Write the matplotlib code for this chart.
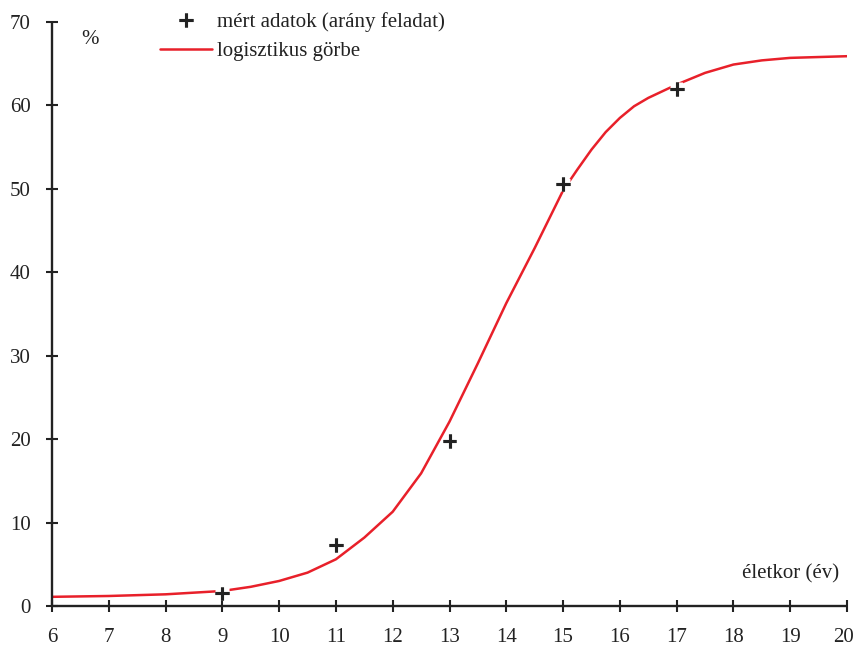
import matplotlib
matplotlib.use("Agg")
import matplotlib.pyplot as plt
import matplotlib.patheffects as pe
import matplotlib.transforms as mtrans

# measured data (arány feladat)
meas_x = [9, 11, 13, 15, 17]
meas_y = [1.5, 7.3, 19.8, 50.6, 62.0]

# logistic curve
curve_x = [6, 7, 8, 8.5, 9, 9.5, 10, 10.5, 11, 11.5, 12, 12.5, 13, 13.5, 14,
           14.5, 15, 15.25, 15.5, 15.75, 16, 16.25, 16.5, 16.75, 17, 17.5, 18,
           18.5, 19, 19.5, 20]
curve_y = [1.1, 1.2, 1.4, 1.6, 1.8, 2.3, 3.0, 4.0, 5.6, 8.2, 11.3, 15.9, 22.1, 29.1, 36.3,
           42.9, 49.8, 52.3, 54.7, 56.8, 58.5, 59.9, 60.9, 61.7, 62.5, 63.9, 64.9,
           65.4, 65.7, 65.8, 65.9]

x_ticks = list(range(6, 21))
y_ticks = list(range(0, 71, 10))

plt.rcParams['font.family'] = ['Liberation Serif', 'DejaVu Serif']

fig = plt.figure(figsize=(8.55, 6.5), dpi=100)
ax = fig.add_axes([52/855, 1-606/650, (847-52)/855, (606-22)/650])

ax.plot(curve_x, curve_y, color='#e8202a', lw=1.8, label='logisztikus görbe',
        zorder=2, solid_joinstyle='round', solid_capstyle='round')
ax.plot(meas_x, meas_y, ls='none', marker='+', ms=10, mew=2.2, color='#222222',
        label='mért adatok (arány feladat)', zorder=3,
        path_effects=[pe.withStroke(linewidth=8, foreground='white'), pe.Normal()])

ax.set_xlim(6, 20)
ax.set_ylim(0, 70)
ax.set_xticks(x_ticks)
ax.set_yticks(y_ticks)
for s in ['top', 'right']:
    ax.spines[s].set_visible(False)
for s in ['left', 'bottom']:
    ax.spines[s].set_linewidth(1.7)
    ax.spines[s].set_color('#222222')
    ax.spines[s].set_capstyle('butt')
ax.tick_params(direction='inout', length=9, width=1.5, color='#222222',
               labelsize=15, pad=11, labelcolor='#222222')

# keep the last x label inside the canvas
fig.canvas.draw()
last = ax.get_xticklabels()[-1]
last.set_transform(last.get_transform() +
                   mtrans.ScaledTranslation(-4/100, 0, fig.dpi_scale_trans))

ax.text(6.67, 67.9, '%', fontsize=15, ha='center', va='center', color='#222222')
ax.text(19.87, 3.8, 'életkor (év)', fontsize=15, ha='right', va='center', color='#222222')

handles, labels = ax.get_legend_handles_labels()
leg = ax.legend(handles[::-1], labels[::-1], loc='upper left',
                bbox_to_anchor=(160/855, 1 - 12/650), bbox_transform=fig.transFigure,
                frameon=False, fontsize=15, handlelength=2.5, handletextpad=0.25,
                borderpad=0.0, labelspacing=0.45, borderaxespad=0.0)
for t in leg.get_texts():
    t.set_color('#222222')

fig.savefig('out.png', dpi=100)
